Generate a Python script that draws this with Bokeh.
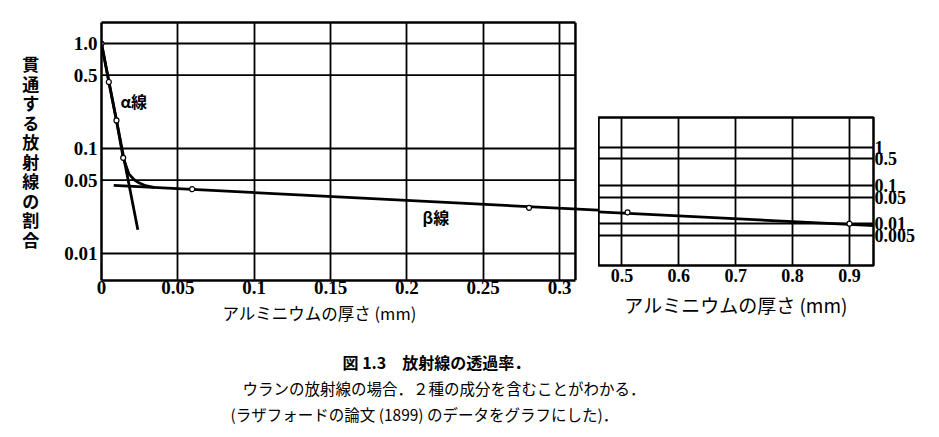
from bokeh.plotting import figure
from bokeh.models import Range1d, FixedTicker, LinearAxis, LogAxis, Span, Title, Grid
from bokeh.layouts import row, column
from bokeh.embed import file_html
from bokeh.resources import INLINE
from bokeh.core.properties import value

# ---------------- data ----------------
main_x_ticks = [0, 0.05, 0.1, 0.15, 0.2, 0.25, 0.3]
main_x_labels = ["0", "0.05", "0.1", "0.15", "0.2", "0.25", "0.3"]
main_y_ticks = [0.01, 0.05, 0.1, 0.5, 1.0]
main_y_labels = ["0.01", "0.05", "0.1", "0.5", "1.0"]
inset_x_ticks = [0.5, 0.6, 0.7, 0.8, 0.9]
inset_x_labels = ["0.5", "0.6", "0.7", "0.8", "0.9"]
inset_y_ticks = [0.005, 0.01, 0.05, 0.1, 0.5, 1.0]
inset_y_labels = ["0.005", "0.01", "0.05", "0.1", "0.5", "1"]

# measured transmission (Rutherford 1899)
meas_x = [0, 0.0048, 0.0098, 0.0142, 0.0594, 0.28, 0.51, 0.9]
meas_y = [1.0, 0.43, 0.185, 0.0815, 0.041, 0.0272, 0.0201, 0.0101]
# total curve through the knee
total_x = [0, 0.0048, 0.0098, 0.0142, 0.0179, 0.0212, 0.0245, 0.0288, 0.035]
total_y = [1.0, 0.43, 0.185, 0.0815, 0.0574, 0.0507, 0.0471, 0.0442, 0.0425]
# alpha component (straight line on log scale)
alpha_x = [0, 0.0238]
alpha_y = [1.0, 0.0168]
# beta component
beta_x = [0.008, 0.95]
beta_y = [0.0445, 0.0089]

alpha_label = "α線"
beta_label = "β線"
y_title = "貫通する放射線の割合"
x_title = "アルミニウムの厚さ (mm)"
caption_lines = ["図 1.3　放射線の透過率．",
                 "ウランの放射線の場合．２種の成分を含むことがわかる．",
                 "(ラザフォードの論文 (1899) のデータをグラフにした)．"]

# ---------------- layout constants ----------------
MAIN_X = (0, 0.3255)
MAIN_BOX_R = 0.3104
MAIN_Y = (0.00553, 1.585)
INSET_X = (0.4589, 0.9422)
INSET_Y = (0.000815, 6.07)
ALPHA_POS = (0.0124, 0.286)
BETA_POS = (0.2102, 0.0222)

JP = "Noto Sans CJK JP"
SERIF = "Liberation Serif"
LW = 2.8

# ---------------- main panel ----------------
p = figure(width=598, height=350, x_range=Range1d(*MAIN_X), y_range=Range1d(*MAIN_Y),
           y_axis_type="log", x_axis_location=None, y_axis_location=None,
           output_backend="svg", toolbar_location=None,
           min_border_left=101, min_border_right=0, min_border_top=22, min_border_bottom=70,
           outline_line_color=None, frame_align=False)
p.xgrid.visible = False
p.ygrid.visible = False

yax = LogAxis(ticker=FixedTicker(ticks=main_y_ticks),
              major_label_overrides=dict(zip(main_y_ticks, main_y_labels)),
              axis_line_width=2.5, axis_line_color="black",
              major_tick_line_color=None, minor_tick_line_color=None,
              major_tick_out=0, major_label_standoff=4,
              major_label_text_font=SERIF, major_label_text_font_size="19px",
              major_label_text_font_style="bold", major_label_text_color="black",
              axis_label="\n".join(y_title), axis_label_orientation="horizontal",
              axis_label_text_font=JP, axis_label_text_font_size="17px",
              axis_label_text_font_style="bold", axis_label_text_line_height=0.78,
              axis_label_standoff=22, axis_label_text_color="black")
p.add_layout(yax, "left")

xticker = FixedTicker(ticks=main_x_ticks)
xax = LinearAxis(ticker=xticker, bounds=(0, MAIN_BOX_R),
                 major_label_overrides=dict(zip(main_x_ticks, main_x_labels)),
                 axis_line_width=2.5, axis_line_color="black",
                 major_tick_line_color=None, minor_tick_line_color=None,
                 major_tick_out=0, major_label_standoff=0,
                 major_label_text_font=SERIF, major_label_text_font_size="19px",
                 major_label_text_font_style="bold", major_label_text_color="black")
p.add_layout(xax, "below")

top_ax = LinearAxis(ticker=FixedTicker(ticks=[]), bounds=(0, MAIN_BOX_R),
                    axis_line_width=2.5, axis_line_color="black",
                    major_tick_line_color=None, minor_tick_line_color=None,
                    major_label_text_font_size="0px")
p.add_layout(top_ax, "above")

p.add_layout(Title(text=x_title, align="left", offset=121, standoff=4,
                   text_font=JP, text_font_size="16.5px", text_font_style="normal",
                   text_color="black"), "below")

p.add_layout(Span(location=MAIN_BOX_R, dimension="height", line_color="black", line_width=2.5))
p.add_layout(Grid(dimension=0, ticker=xticker, grid_line_color="black", grid_line_width=1.8))
p.segment(x0=0, x1=MAIN_BOX_R, y0=main_y_ticks, y1=main_y_ticks, line_color="black", line_width=1.8)

p.line(beta_x, beta_y, line_width=LW, color="black")
p.line(alpha_x, alpha_y, line_width=LW, color="black")
p.line(total_x, total_y, line_width=LW, color="black")
p.scatter(meas_x, meas_y, size=5, marker="circle", fill_color="white", line_color="black", line_width=1.2)

p.text(x=[ALPHA_POS[0]], y=[ALPHA_POS[1]], text=[alpha_label], text_font=value(JP),
       text_font_size="16px", text_font_style="bold", text_baseline="middle", text_align="left",
       text_color="black")
p.text(x=[BETA_POS[0]], y=[BETA_POS[1]], text=[beta_label], text_font=value(JP),
       text_font_size="16px", text_font_style="bold", text_baseline="middle", text_align="left",
       text_color="black")

# ---------------- inset panel ----------------
q = figure(width=330, height=325, x_range=Range1d(*INSET_X), y_range=Range1d(*INSET_Y),
           y_axis_type="log", x_axis_location=None, y_axis_location=None,
           output_backend="svg", toolbar_location=None,
           min_border_left=0, min_border_right=55, min_border_top=117, min_border_bottom=60,
           outline_line_color="black", outline_line_width=2.5, frame_align=False)
q.xgrid.visible = False
q.ygrid.visible = False

qx_ticker = FixedTicker(ticks=inset_x_ticks)
qy_ticker = FixedTicker(ticks=inset_y_ticks)
qxax = LinearAxis(ticker=qx_ticker,
                  major_label_overrides=dict(zip(inset_x_ticks, inset_x_labels)),
                  axis_line_color=None, major_tick_line_color=None, minor_tick_line_color=None,
                  major_tick_out=0, major_label_standoff=3,
                  major_label_text_font=SERIF, major_label_text_font_size="18px",
                  major_label_text_font_style="bold", major_label_text_color="black",
                  axis_label=x_title, axis_label_standoff=6,
                  axis_label_text_font=JP, axis_label_text_font_size="19px",
                  axis_label_text_font_style="normal", axis_label_text_color="black")
q.add_layout(qxax, "below")
qyax = LogAxis(ticker=qy_ticker,
               major_label_overrides=dict(zip(inset_y_ticks, inset_y_labels)),
               axis_line_color=None, major_tick_line_color=None, minor_tick_line_color=None,
               major_tick_out=0, major_label_standoff=1,
               major_label_text_font=SERIF, major_label_text_font_size="18px",
               major_label_text_font_style="bold", major_label_text_color="black")
q.add_layout(qyax, "right")
q.add_layout(Grid(dimension=0, ticker=qx_ticker, grid_line_color="black", grid_line_width=1.8))
q.add_layout(Grid(dimension=1, ticker=qy_ticker, grid_line_color="black", grid_line_width=1.8))

q.line(beta_x, beta_y, line_width=LW, color="black")
q.scatter(meas_x, meas_y, size=5, marker="circle", fill_color="white", line_color="black", line_width=1.2)

# ---------------- caption ----------------
CAP_W, CAP_H = 928, 80
cap_x = [342, 242, 230]
cap_y = [11, 37, 63]
c = figure(width=CAP_W, height=CAP_H, x_range=Range1d(0, CAP_W), y_range=Range1d(CAP_H, 0),
           x_axis_location=None, y_axis_location=None, output_backend="svg",
           toolbar_location=None, min_border=0, outline_line_color=None, frame_align=False)
c.xgrid.visible = False
c.ygrid.visible = False
c.text(x=cap_x[:1], y=cap_y[:1], text=caption_lines[:1], text_font=value(JP),
       text_font_size="16px", text_font_style="bold", text_baseline="middle",
       text_align="left", text_color="black")
c.text(x=cap_x[1:], y=cap_y[1:], text=caption_lines[1:], text_font=value(JP),
       text_font_size="15.5px", text_font_style="normal", text_baseline="middle",
       text_align="left", text_color="black")

layout = column(row(p, q, spacing=0), c, spacing=0)
open("out.html", "w").write(file_html(layout, INLINE))
